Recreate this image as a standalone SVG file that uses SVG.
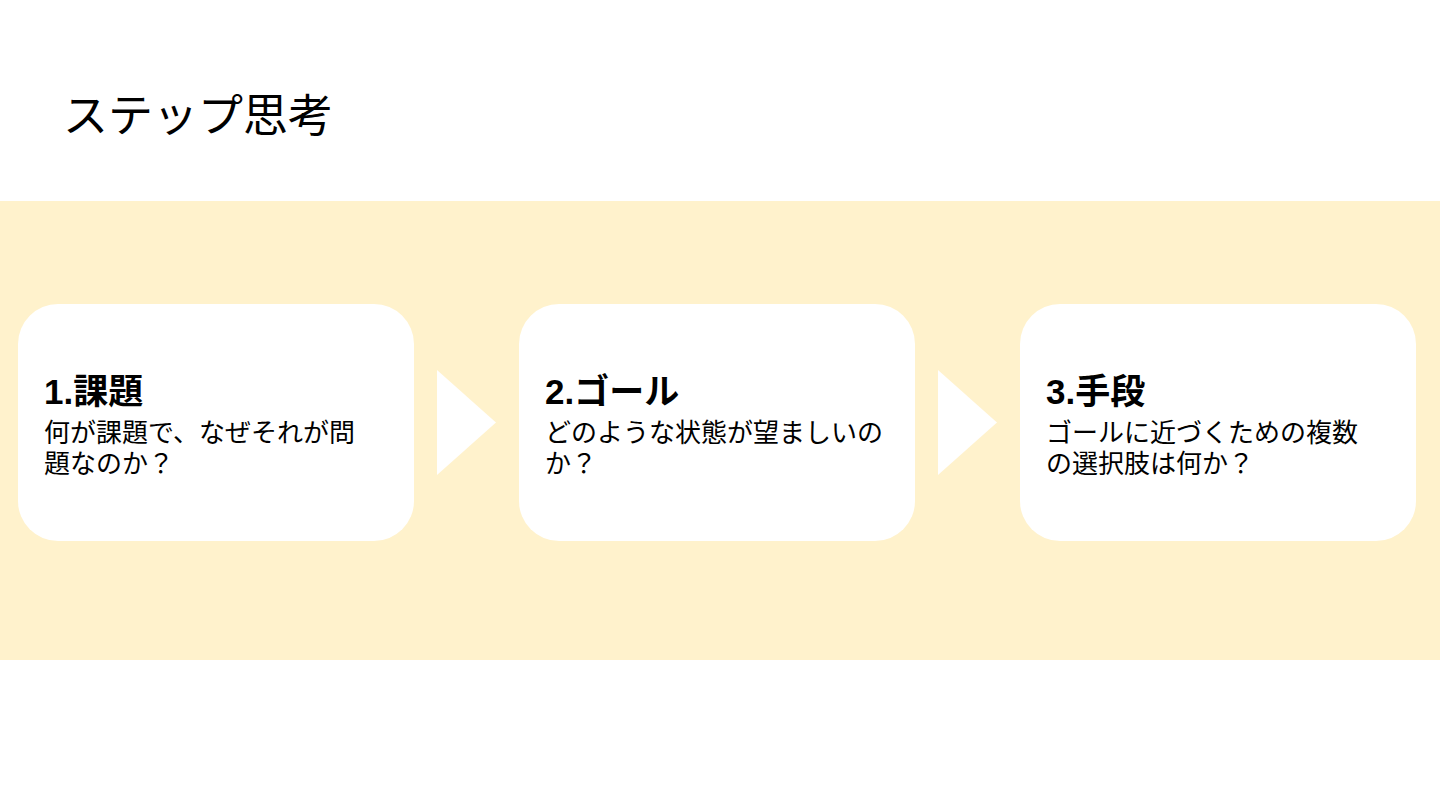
<svg xmlns="http://www.w3.org/2000/svg" width="1440" height="810" viewBox="0 0 1440 810">
<style>
text{font-family:"Liberation Sans","Noto Sans CJK JP",sans-serif;fill:#000}
.title{font-size:45px}
.head{font-size:35px;font-weight:bold}
.body{font-size:26px}
.box{fill:#fff}
.arrow{fill:#fff}
</style>
<rect width="1440" height="810" fill="#fff"/>
<rect x="0" y="201" width="1440" height="459" fill="#FFF2CC"/>
<text class="title" x="63" y="132">ステップ思考</text>
<g id="node1">
<rect class="box" x="18" y="304" width="396" height="237" rx="40"/>
<text class="head" x="44" y="404">1.課題</text>
<text class="body" x="44" y="442">何が課題で、なぜそれが問</text>
<text class="body" x="44" y="473">題なのか？</text>
</g>
<g id="node2">
<rect class="box" x="519" y="304" width="396" height="237" rx="40"/>
<text class="head" x="545" y="404">2.ゴール</text>
<text class="body" x="545" y="442">どのような状態が望ましいの</text>
<text class="body" x="545" y="473">か？</text>
</g>
<g id="node3">
<rect class="box" x="1020" y="304" width="396" height="237" rx="40"/>
<text class="head" x="1046" y="404">3.手段</text>
<text class="body" x="1046" y="442">ゴールに近づくための複数</text>
<text class="body" x="1046" y="473">の選択肢は何か？</text>
</g>
<g id="connectors">
<polygon class="arrow" points="437,370 496,422.5 437,475"/>
<polygon class="arrow" points="938,370 997,422.5 938,475"/>
</g>
</svg>
